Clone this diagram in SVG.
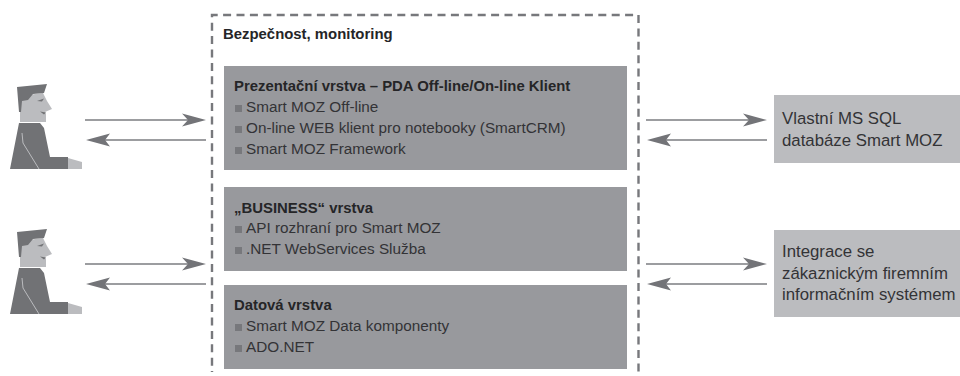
<svg xmlns="http://www.w3.org/2000/svg" width="960" height="376" viewBox="0 0 960 376">
<style>
text{font-family:"Liberation Sans",Arial,sans-serif;font-size:15.3px;fill:#333336}
.b{font-weight:bold;font-size:14.9px;fill:#252527}
.s{font-size:16.8px}
.panel{fill:#98999d}
.side{fill:#bbbcbf}
.bul{fill:#77787c}
.dark{fill:#717275}
.light{fill:#bbbcbf}
.ln{stroke:#7b7c80;stroke-width:1.6;fill:none}
.ah{fill:#737478}
</style>
<defs>
<g id="person">
<path class="light" d="M20 12L43 9L47 17L52 25L45 28L46 30L46 38L20 38Z"/>
<path class="dark" d="M17 3L47 0L44 9L33 10L28 16L22 17L21 28L19 28Z"/>
<path d="M37 17L44 14.500L42 17.500Z" fill="#717275"/>
<path d="M40 27.500L46 28.500L44 30.500Z" fill="#717275"/>
<path class="dark" d="M19 39L40 39L44 44L50 73L68 73L68 85L10 85Z"/>
<path class="light" d="M68 74L82 78L82 85L68 85Z"/>
<path d="M22 49L23 59L39 85" fill="none" stroke="#bbbcbf" stroke-width="1"/>
</g>
<g id="arrows">
<path class="ln" d="M0 0H112"/>
<path class="ah" d="M97 -6.500L121 0L97 6.500L103 0Z"/>
<path class="ln" d="M121 20H10"/>
<path class="ah" d="M25 13.500L1 20L25 26.500L20 20Z"/>
</g>
</defs>
<g id="security-frame">
<path d="M212 372V15H638.500V372" fill="none" stroke="#77787c" stroke-width="2.4" stroke-dasharray="8 5.400" stroke-dashoffset="-6.300"/>
<text class="b" x="223" y="39">Bezpečnost, monitoring</text>
</g>
<g id="presentation-layer">
<rect class="panel" x="224" y="66" width="403" height="104"/>
<text class="b" x="234" y="91">Prezentační vrstva – PDA Off-line/On-line Klient</text>
<rect class="bul" x="235" y="105" width="7" height="7"/><text x="246" y="112">Smart MOZ Off-line</text>
<rect class="bul" x="235" y="126" width="7" height="7"/><text x="246" y="133">On-line WEB klient pro notebooky (SmartCRM)</text>
<rect class="bul" x="235" y="147" width="7" height="7"/><text x="246" y="154">Smart MOZ Framework</text>
</g>
<g id="business-layer">
<rect class="panel" x="224" y="187" width="403" height="84"/>
<text class="b" x="234" y="213">„BUSINESS“ vrstva</text>
<rect class="bul" x="235" y="226" width="7" height="7"/><text x="246" y="233">API rozhraní pro Smart MOZ</text>
<rect class="bul" x="235" y="247" width="7" height="7"/><text x="246" y="254">.NET WebServices Služba</text>
</g>
<g id="data-layer">
<rect class="panel" x="224" y="285" width="403" height="84"/>
<text class="b" x="234" y="310">Datová vrstva</text>
<rect class="bul" x="235" y="324" width="7" height="7"/><text x="246" y="331">Smart MOZ Data komponenty</text>
<rect class="bul" x="235" y="345" width="7" height="7"/><text x="246" y="352">ADO.NET</text>
</g>
<g id="user-1"><use href="#person" transform="translate(0 84)"/></g>
<g id="user-2"><use href="#person" transform="translate(0 229)"/></g>
<g id="sql-db">
<rect class="side" x="774" y="95" width="186" height="68"/>
<text class="s" x="782" y="124">Vlastní MS SQL</text>
<text class="s" x="782" y="146">databáze Smart MOZ</text>
</g>
<g id="integration">
<rect class="side" x="774" y="230" width="186" height="87"/>
<text class="s" x="782" y="257">Integrace se</text>
<text class="s" x="782" y="279">zákaznickým firemním</text>
<text class="s" x="782" y="300">informačním systémem</text>
</g>
<g id="connectors">
<use href="#arrows" transform="translate(85 120)"/>
<use href="#arrows" transform="translate(85 264)"/>
<use href="#arrows" transform="translate(646 120)"/>
<use href="#arrows" transform="translate(646 264)"/>
</g>
</svg>
